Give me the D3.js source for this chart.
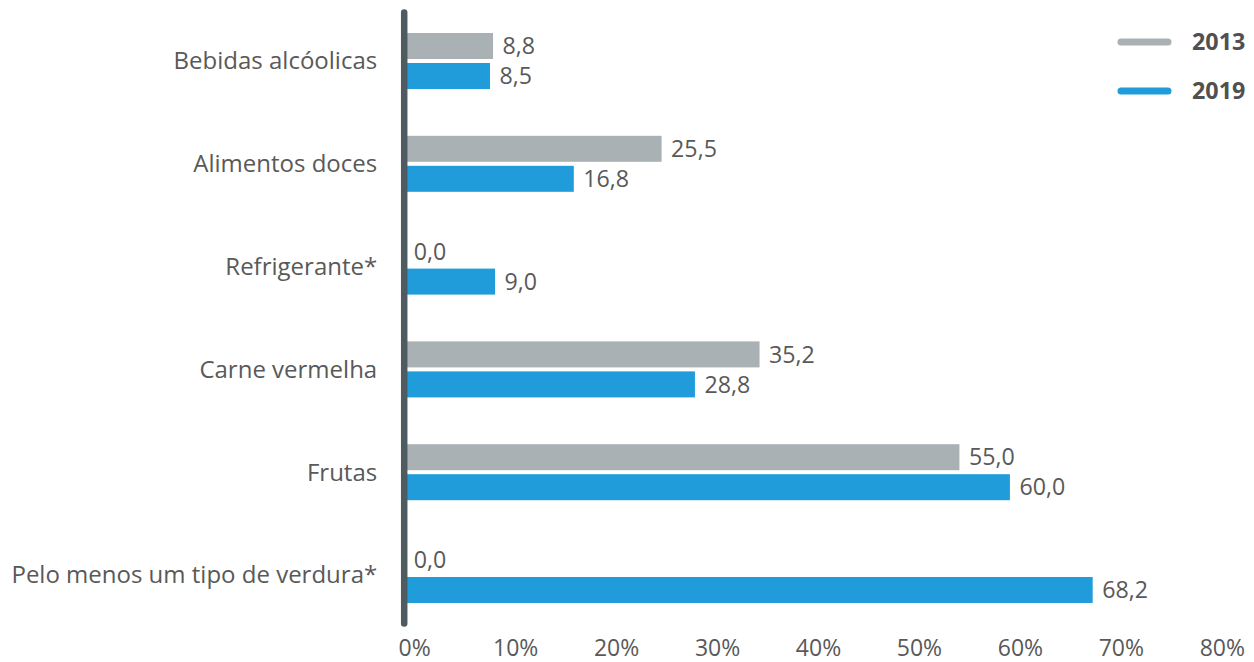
<!DOCTYPE html>
<html>
<head>
<meta charset="utf-8">
<script src="https://cdn.jsdelivr.net/npm/d3@7"></script>
<style>
  html, body { margin: 0; padding: 0; background: #fff; }
  svg { display: block; font-family: "Open Sans", sans-serif; }
</style>
</head>
<body>
<svg id="chart" width="1254" height="662"></svg>
<script>
const categories = ["Bebidas alcóolicas", "Alimentos doces", "Refrigerante*", "Carne vermelha", "Frutas", "Pelo menos um tipo de verdura*"];
const seriesNames = ["2013", "2019"];
const values2013 = [8.8, 25.5, 0.0, 35.2, 55.0, 0.0];
const values2019 = [8.5, 16.8, 9.0, 28.8, 60.0, 68.2];
const xTicks = [0, 10, 20, 30, 40, 50, 60, 70, 80];
const colors = { "2013": "#aab1b4", "2019": "#1f9cd9" };

const svg = d3.select("#chart");
const x = d3.scaleLinear().domain([0, 80]).range([404.2, 1211.8]);
const y = d3.scaleBand().domain(categories).range([9.6, 626.4]);
const ySub = d3.scaleBand().domain(seriesNames).range([-28, 28]).paddingInner(0.1333);

const locale = d3.formatLocale({ decimal: ",", thousands: ".", grouping: [3], currency: ["R$", ""] });
const fmt = locale.format(".1f");

const data = [];
categories.forEach((c, i) => {
  data.push({ cat: c, s: "2013", v: values2013[i] });
  data.push({ cat: c, s: "2019", v: values2019[i] });
});

const g = svg.append("g");
const center = c => y(c) + y.bandwidth() / 2;

g.selectAll("rect.bar").data(data).enter().append("rect")
  .attr("class", "bar")
  .attr("x", x(0))
  .attr("y", d => center(d.cat) + ySub(d.s))
  .attr("width", d => x(d.v) - x(0))
  .attr("height", ySub.bandwidth())
  .attr("fill", d => colors[d.s]);

g.selectAll("text.val").data(data).enter().append("text")
  .attr("class", "val")
  .attr("x", d => x(d.v) + 9.5)
  .attr("y", d => center(d.cat) + ySub(d.s) + ySub.bandwidth() / 2)
  .attr("dy", "0.35em")
  .attr("font-size", 23.2)
  .attr("fill", "#595959")
  .text(d => fmt(d.v));

// Category labels
g.selectAll("text.cat").data(categories).enter().append("text")
  .attr("class", "cat")
  .attr("x", x(0) - 27)
  .attr("y", d => center(d))
  .attr("dy", "0.35em")
  .attr("text-anchor", "end")
  .attr("font-size", 24)
  .attr("fill", "#595959")
  .text(d => d);

// Vertical axis line
g.append("line")
  .attr("x1", x(0)).attr("x2", x(0))
  .attr("y1", y.range()[0] + 3).attr("y2", y.range()[1] - 3)
  .attr("stroke", "#4e5b60")
  .attr("stroke-width", 6.5)
  .attr("stroke-linecap", "round");

// X axis
const xAxis = d3.axisBottom(x).tickValues(xTicks).tickSize(0).tickFormat(d => d + "%");
const ax = svg.append("g").attr("transform", "translate(0,637)").call(xAxis);
ax.select(".domain").remove();
ax.selectAll("text")
  .attr("dx", 10)
  .attr("font-family", "Open Sans, sans-serif")
  .attr("font-size", 23)
  .attr("fill", "#595959");

// Legend
const legend = svg.append("g");
seriesNames.forEach((s, i) => {
  const ly = 42 + i * 49;
  legend.append("line")
    .attr("x1", 1121).attr("x2", 1168)
    .attr("y1", ly).attr("y2", ly)
    .attr("stroke", colors[s])
    .attr("stroke-width", 7)
    .attr("stroke-linecap", "round");
  legend.append("text")
    .attr("x", 1192).attr("y", ly)
    .attr("dy", "0.35em")
    .attr("font-size", 23.3)
    .attr("font-weight", "bold")
    .attr("fill", "#505050")
    .text(s);
});
</script>
</body>
</html>
